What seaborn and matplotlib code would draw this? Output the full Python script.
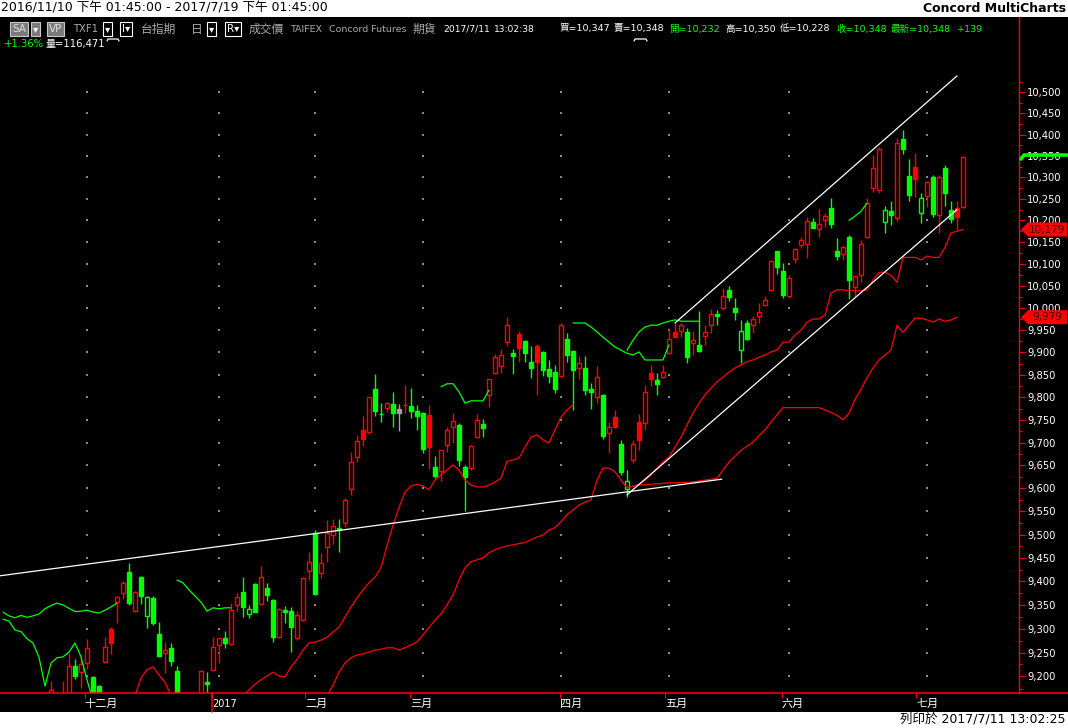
import numpy as np
import pandas as pd
import matplotlib
matplotlib.use("Agg")
import matplotlib.pyplot as plt
import seaborn as sns
from matplotlib.ticker import FixedLocator, FuncFormatter, NullFormatter
from matplotlib.patches import Rectangle, Polygon
from matplotlib.lines import Line2D

sns.set_theme(style="dark")
plt.rcParams["font.family"] = ["DejaVu Sans", "Noto Sans CJK TC"]

# ---------------- data (daily TXF1 bars, index 0 = first bar on the left) ----------------
opens = [9060, 9075, 9090, 9110, 9100, 9120, 9140, 9125, 9160, 9150,
         9125, 9140, 9222, 9209, 9228, 9199, 9180, 9230, 9299, 9356,
         9375, 9420, 9337, 9409, 9327, 9365, 9289, 9250, 9260, 9211,
         9150, 9130, 9120, 9150, 9188, 9214, 9266, 9281, 9268, 9351,
         9377, 9331, 9394, 9352, 9387, 9361, 9282, 9340, 9337, 9281,
         9318, 9422, 9503, 9417, 9474, 9499, 9514, 9525, 9598, 9669,
         9728, 9724, 9818, 9763, 9777, 9785, 9775, 9782, 9780, 9770,
         9766, 9761, 9647, 9638, 9695, 9735, 9739, 9646, 9644, 9712,
         9741, 9805, 9855, 9870, 9924, 9899, 9941, 9926, 9879, 9914,
         9901, 9862, 9857, 9847, 9929, 9904, 9864, 9864, 9818, 9801,
         9805, 9720, 9756, 9697, 9598, 9662, 9746, 9744, 9855, 9838,
         9844, 9898, 9945, 9949, 9946, 9921, 9917, 9937, 9961, 9986,
         10001, 10041, 9999, 9905, 9967, 9961, 9982, 10007, 10041, 10129,
         10085, 10027, 10111, 10143, 10146, 10196, 10180, 10201, 10228, 10129,
         10122, 10162, 10048, 10075, 10162, 10274, 10270, 10197, 10222, 10205,
         10389, 10303, 10325, 10217, 10257, 10301, 10212, 10321, 10225, 10228,
         10232]
highs = [9090, 9100, 9120, 9140, 9130, 9150, 9155, 9150, 9190, 9160,
         9191, 9249, 9237, 9241, 9278, 9200, 9182, 9283, 9303, 9369,
         9400, 9439, 9380, 9412, 9369, 9369, 9314, 9272, 9270, 9222,
         9160, 9150, 9155, 9213, 9210, 9283, 9281, 9296, 9354, 9376,
         9409, 9349, 9397, 9433, 9396, 9362, 9344, 9348, 9346, 9337,
         9408, 9463, 9510, 9460, 9532, 9533, 9533, 9580, 9680, 9717,
         9759, 9801, 9852, 9787, 9790, 9812, 9785, 9828, 9820, 9782,
         9767, 9783, 9670, 9684, 9735, 9766, 9742, 9651, 9695, 9764,
         9751, 9841, 9896, 9907, 9979, 9907, 9949, 9928, 9914, 9918,
         9902, 9884, 9872, 9966, 9943, 9905, 9892, 9892, 9832, 9869,
         9807, 9746, 9772, 9706, 9640, 9706, 9764, 9828, 9872, 9855,
         9872, 9952, 9965, 9965, 9954, 9949, 9992, 9961, 9997, 9995,
         10045, 10050, 10022, 9973, 9973, 9981, 10012, 10027, 10109, 10130,
         10103, 10075, 10136, 10162, 10207, 10205, 10226, 10218, 10251, 10159,
         10141, 10166, 10073, 10156, 10251, 10352, 10371, 10233, 10245, 10391,
         10411, 10342, 10357, 10263, 10291, 10305, 10305, 10329, 10246, 10244,
         10350]
lows = [9040, 9050, 9070, 9090, 9080, 9100, 9110, 9100, 9150, 9120,
        9110, 9130, 9195, 9176, 9216, 9140, 9130, 9229, 9247, 9312,
        9363, 9350, 9335, 9352, 9301, 9308, 9240, 9207, 9222, 9150,
        9110, 9100, 9100, 9140, 9150, 9212, 9229, 9259, 9266, 9338,
        9324, 9322, 9335, 9350, 9359, 9273, 9280, 9311, 9252, 9276,
        9316, 9403, 9372, 9407, 9442, 9481, 9462, 9517, 9586, 9658,
        9693, 9719, 9759, 9746, 9768, 9735, 9726, 9765, 9754, 9728,
        9678, 9642, 9622, 9617, 9680, 9700, 9649, 9552, 9640, 9710,
        9713, 9779, 9852, 9853, 9914, 9852, 9879, 9879, 9842, 9805,
        9847, 9832, 9810, 9845, 9879, 9772, 9840, 9805, 9775, 9787,
        9707, 9678, 9731, 9629, 9582, 9655, 9683, 9728, 9824, 9805,
        9843, 9897, 9934, 9935, 9876, 9894, 9900, 9917, 9943, 9961,
        9995, 10015, 9973, 9877, 9928, 9943, 9966, 10005, 10039, 10078,
        10022, 10022, 10103, 10136, 10113, 10182, 10162, 10184, 10182, 10109,
        10110, 10020, 10026, 10060, 10159, 10266, 10264, 10171, 10189, 10199,
        10354, 10246, 10255, 10195, 10231, 10208, 10170, 10234, 10193, 10178,
        10228]
closes = [9075, 9090, 9110, 9100, 9120, 9140, 9125, 9110, 9172, 9130,
          9160, 9222, 9201, 9226, 9260, 9150, 9145, 9262, 9270, 9367,
          9397, 9354, 9378, 9369, 9366, 9312, 9243, 9256, 9232, 9160,
          9130, 9120, 9145, 9211, 9184, 9262, 9280, 9270, 9340, 9366,
          9345, 9342, 9336, 9409, 9371, 9283, 9342, 9335, 9304, 9329,
          9407, 9442, 9373, 9439, 9503, 9518, 9510, 9575, 9658, 9704,
          9708, 9800, 9770, 9762, 9787, 9765, 9765, 9783, 9769, 9759,
          9685, 9690, 9627, 9683, 9728, 9748, 9662, 9624, 9693, 9750,
          9731, 9840, 9889, 9894, 9961, 9892, 9909, 9899, 9865, 9879,
          9860, 9847, 9818, 9961, 9894, 9860, 9876, 9815, 9812, 9844,
          9715, 9734, 9735, 9636, 9615, 9697, 9706, 9812, 9840, 9829,
          9857, 9931, 9935, 9961, 9889, 9928, 9902, 9946, 9986, 9982,
          10028, 10024, 9991, 9949, 9930, 9975, 9991, 10018, 10107, 10094,
          10030, 10067, 10134, 10156, 10199, 10183, 10192, 10210, 10192, 10118,
          10138, 10063, 10072, 10146, 10240, 10321, 10367, 10225, 10212, 10380,
          10367, 10259, 10295, 10251, 10290, 10214, 10301, 10264, 10203, 10209,
          10348]

# indicator lines: (first bar index, values)
green_a = (0, [9335, 9327, 9323, 9328, 9324, 9327, 9331, 9342, 9349, 9354,
               9350, 9343, 9336, 9337, 9339, 9335, 9333, 9339, 9346, 9354])
green_b = (0, [9320, 9316, 9297, 9294, 9279, 9270, 9240, 9180, 9228, 9239,
               9241, 9251, 9270, 9241, 9193, 9150])
green_c = (29, [9403, 9397, 9382, 9369, 9356, 9337, 9344, 9342, 9344, 9344])
green_d = (73, [9823, 9830, 9830, 9812, 9787, 9792, 9792, 9792, 9816])
green_e = (95, [9966, 9966, 9966, 9957, 9946, 9934, 9923, 9912, 9905, 9898,
                9894, 9901, 9883, 9883, 9883, 9883, 9917])
green_f = (104, [9905, 9927, 9946, 9957, 9961, 9961, 9966, 9970, 9973, 9970,
                 9970, 9970, 9970])
green_g = (141, [10200, 10210, 10221, 10240])

red1_a = (22, [9160, 9197, 9214, 9220, 9203, 9188, 9160])
red1_b = (40, [9160, 9172, 9184, 9193, 9201, 9209, 9201, 9199, 9220, 9235,
               9255, 9270, 9272, 9276, 9282, 9293, 9303, 9325, 9346, 9365,
               9382, 9397, 9409, 9429, 9477, 9520, 9559, 9592, 9605, 9609,
               9605, 9597, 9618, 9629, 9640, 9651, 9640, 9618, 9607, 9603,
               9603, 9607, 9614, 9622, 9659, 9662, 9666, 9690, 9712, 9717,
               9706, 9699, 9728, 9756, 9772, 9783])
red1_c = (105, [9605, 9609, 9618, 9629, 9644, 9658, 9668, 9690, 9712, 9739,
                9765, 9787, 9805, 9820, 9834, 9845, 9856, 9865, 9872, 9879,
                9883, 9889, 9894, 9901,
                9905, 9923, 9923, 9939, 9950, 9968, 9975, 9975, 9984, 10034,
                10041, 10041, 10039, 10039, 10039, 10041, 10063, 10081, 10081, 10074,
                10058, 10115, 10115, 10115, 10109, 10118, 10115, 10115, 10138, 10171,
                10175, 10179])
red2 = (54, [9160, 9182, 9209, 9228, 9239, 9245, 9247, 9251, 9255, 9257,
             9260, 9260, 9255, 9260, 9266, 9272, 9287, 9303, 9318, 9331,
             9350, 9371, 9403, 9429, 9442, 9446, 9450, 9461, 9468, 9472,
             9476, 9478, 9481, 9483, 9489, 9495, 9499, 9510, 9515, 9528,
             9543, 9553, 9564, 9570, 9575, 9618, 9644, 9644, 9636, 9618,
             9601, 9605, 9607, 9608, 9609, 9610, 9611, 9612, 9612, 9613,
             9613, 9614, 9616, 9618, 9620, 9622, 9640, 9657, 9670, 9683,
             9692, 9701, 9715, 9728, 9745, 9761, 9777, 9777, 9777, 9777,
             9777, 9777, 9777, 9772, 9766, 9760, 9750, 9765, 9795, 9818,
             9843, 9865, 9883, 9894, 9905, 9961, 9945, 9961, 9977, 9977,
             9973, 9968, 9975, 9970, 9973, 9979])

# hand-drawn trend lines (bar index, price)
trend_long_x, trend_long_y = [-0.5, 119.8], [9412, 9620]
trend_low_x, trend_low_y = [104, 159], [9586, 10225]
trend_up_x, trend_up_y = [112, 159], [9966, 10539]

price_ticks = list(range(9200, 10501, 50))
price_minor = list(range(9175, 10551, 50))
month_pos = [13.6, 34.8, 50.4, 67.8, 92.9, 110.4, 129.8, 152.2]
month_labels = ["十二月", "2017", "二月", "三月", "四月", "五月", "六月", "七月"]
grid_cols = [14, 36, 52, 70, 93, 111, 131, 154]
last_red1, last_red2, green_mark = 10179, 9979, 10352

RED, GREEN, GRAY = "#ff0000", "#00ff00", "#a0a0a0"

# ---------------- figure ----------------
W, H = 1068, 728
fig = plt.figure(figsize=(W / 100, H / 100), dpi=100)
fig.patch.set_facecolor("white")


def fx(px):
    return px / W


def fy(py):
    return 1 - py / H


fig.add_artist(Rectangle((0, fy(712)), 1, fy(17) - fy(712), transform=fig.transFigure,
                         facecolor="black", edgecolor="none", zorder=0))

ax = fig.add_axes([0, fy(693), fx(1019), fy(17) - fy(693)])
ax.set_facecolor("black")
ax.grid(False)
ax.set_yscale("log")
ax.set_ylim(9165.7, 10680.4)
ax.set_xlim(-0.5, 169.33)

# grid dots
gx, gy = np.meshgrid(grid_cols, price_ticks)
sns.scatterplot(x=gx.ravel(), y=gy.ravel(), s=2, color="#8a8a8a", marker="s",
                linewidth=0, ax=ax, legend=False, zorder=1)

# candles
o, h, l, c = map(np.asarray, (opens, highs, lows, closes))
idx = np.arange(len(c))
prev = np.r_[c[0] - 1, c[:-1]]
cols = np.where(c > prev, RED, np.where(c < prev, GREEN, GRAY))
hollow = c > o
ax.vlines(idx, l, h, colors=cols, linewidth=1.0, zorder=3)
bot = np.minimum(o, c)
hgt = np.maximum(np.abs(c - o), 1.5)
faces = np.where(hollow, "black", cols)
ax.bar(idx, hgt, bottom=bot, width=0.62, color=faces, edgecolor=cols,
       linewidth=1.0, zorder=4)


def line_frame(series, color):
    rows = []
    for sid, (start, vals) in enumerate(series):
        for j, v in enumerate(vals):
            rows.append({"x": start + j, "y": v, "seg": f"{color}{sid}"})
    return pd.DataFrame(rows)


dfg = line_frame([green_a, green_b, green_c, green_d, green_e, green_f, green_g], "g")
dfr = line_frame([red1_a, red1_b, red1_c, red2], "r")
sns.lineplot(data=dfg, x="x", y="y", units="seg", estimator=None, sort=False,
             color=GREEN, linewidth=0.9, ax=ax, legend=False, zorder=5)
sns.lineplot(data=dfr, x="x", y="y", units="seg", estimator=None, sort=False,
             color=RED, linewidth=0.9, ax=ax, legend=False, zorder=5)

dft = pd.DataFrame({
    "x": trend_long_x + trend_low_x + trend_up_x,
    "y": trend_long_y + trend_low_y + trend_up_y,
    "seg": ["a", "a", "b", "b", "c", "c"]})
sns.lineplot(data=dft, x="x", y="y", units="seg", estimator=None, sort=False,
             color="white", linewidth=0.9, ax=ax, legend=False, zorder=6)

# axes styling
for s in ("left", "top", "bottom"):
    ax.spines[s].set_visible(False)
ax.spines["right"].set_color(RED)
ax.spines["right"].set_linewidth(1.0)
ax.yaxis.tick_right()
ax.yaxis.set_major_locator(FixedLocator(price_ticks))
ax.yaxis.set_major_formatter(FuncFormatter(lambda v, _: f"{int(round(v)):,}"))
ax.yaxis.set_minor_locator(FixedLocator(price_minor))
ax.yaxis.set_minor_formatter(NullFormatter())
ax.tick_params(axis="y", which="major", direction="out", length=4, width=0.8,
               color=RED, labelcolor="white", labelsize=7.2, pad=2, right=True, left=False)
ax.tick_params(axis="y", which="minor", direction="out", length=2.5, width=0.8,
               color=RED, right=True, left=False)
ax.set_xticks(month_pos)
ax.set_xticklabels(month_labels, ha="left")
ax.tick_params(axis="x", which="major", direction="out", length=3.5, width=0.8,
               color=RED, labelcolor="white", labelsize=8, pad=0.5, bottom=True)
for lab in ax.get_xticklabels():
    if lab.get_text().isdigit():
        lab.set_fontsize(7)
ax.set_xlabel("")
ax.set_ylabel("")

# bottom axis line across full width and the long year tick
fig.add_artist(Line2D([0, 1], [fy(693), fy(693)], transform=fig.transFigure, color=RED, lw=1.1))
yr_disp = ax.transData.transform((month_pos[1], 9500))[0]
fig.add_artist(Line2D([yr_disp / W, yr_disp / W], [fy(693), fy(712)],
                      transform=fig.transFigure, color=RED, lw=1.1))

# last value flags
for val, txt in ((last_red1, f"{last_red1:,}"), (last_red2, f"{last_red2:,}")):
    ypx = H - ax.transData.transform((0, val))[1]
    pts = [(1021, ypx), (1028, ypx - 7), (1067, ypx - 7), (1067, ypx + 7), (1028, ypx + 7)]
    fig.add_artist(Polygon([(fx(a), fy(b)) for a, b in pts], closed=True,
                           transform=fig.transFigure, facecolor=RED, edgecolor="none", zorder=8))
    fig.text(fx(1047), fy(ypx), txt, color="#300000", fontsize=7.5, ha="center", va="center", zorder=9)
gm = H - ax.transData.transform((0, green_mark))[1]
fig.add_artist(Line2D([fx(1021), fx(1024), fx(1067)], [fy(gm + 4), fy(gm), fy(gm)],
                      transform=fig.transFigure, color=GREEN, lw=2.6, zorder=8))

# ---------------- header texts ----------------
def T(x, y, s, color="white", size=6.8, ha="left", **kw):
    fig.text(fx(x), fy(y), s, color=color, fontsize=size, ha=ha, va="center", **kw)


T(1, 8, "2016/11/10 下午 01:45:00 - 2017/7/19 下午 01:45:00", color="black", size=9)
T(1066, 8, "Concord MultiCharts", color="black", size=9, ha="right", fontweight="bold")
T(1066, 719, "列印於 2017/7/11 13:02:25", color="black", size=9, ha="right")

box_gray = dict(boxstyle="square,pad=0.15", facecolor="#7a7a7a", edgecolor="#c8c8c8", linewidth=0.8)
box_drop = dict(boxstyle="square,pad=0.15", facecolor="black", edgecolor="white", linewidth=0.8)
GR = "#a8a8a8"
T(12, 29, "SA", color="#e0e0e0", size=7.5, bbox=box_gray)
T(33, 29, "▾", size=7.5, bbox=dict(box_gray))
T(49, 29, "VP", color="#e0e0e0", size=7.5, bbox=box_gray)
T(73, 29, "TXF1", color=GR, size=7.2)
T(105, 29, "▾", size=7.5, bbox=box_drop)
T(122, 29, "I▾", size=7.5, bbox=box_drop)
T(141, 29, "台指期", color=GR, size=8.5)
T(191, 29, "日", color=GR, size=8.5)
T(209, 29, "▾", size=7.5, bbox=box_drop)
T(227, 29, "R▾", size=7.5, bbox=box_drop)
T(249, 29, "成交價", color=GR, size=8.5)
T(290, 29, "TAIFEX", color=GR)
T(329, 29, "Concord Futures", color=GR)
T(413, 29, "期貨", color=GR, size=8.5)
T(443, 29, "2017/7/11", size=6.6)
T(494, 29, "13:02:38", size=6.6)
T(560, 29, "買=10,347")
T(614, 29, "賣=10,348")
T(669, 29, "開=10,232", color=GREEN)
T(725, 29, "高=10,350")
T(780, 29, "低=10,228")
T(836, 29, "收=10,348", color=GREEN)
T(891, 29, "最新=10,348", color=GREEN)
T(957, 29, "+139", color=GREEN)
T(4, 44, "+1.36%", color=GREEN, size=7.2)
T(45, 44, "量=116,471", size=7.2)
for x0, x1 in ((107, 119), (634, 647)):
    fig.add_artist(Line2D([fx(x0), fx(x0 + 1), fx(x1 - 1), fx(x1)],
                          [fy(41), fy(39), fy(39), fy(41)], transform=fig.transFigure,
                          color="white", lw=0.9))

fig.savefig("out.png", dpi=100, facecolor=fig.get_facecolor())
